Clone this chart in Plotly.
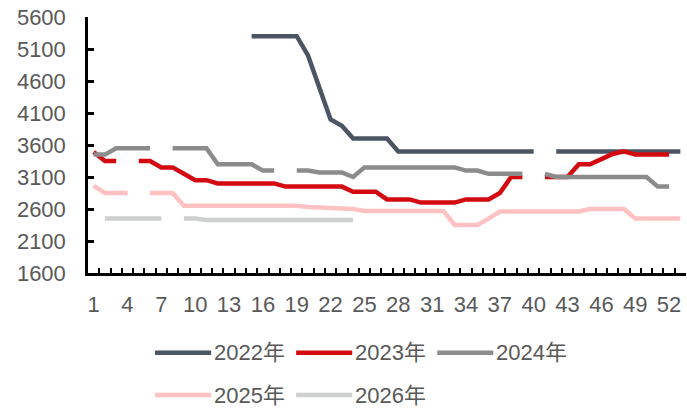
import plotly.graph_objects as go

# Weekly price series (weeks 1-53); None marks a week with no quote
weeks = list(range(1, 54))

y2022 = ([None] * 14 + [5300] * 5 + [5000, 4500, 4000, 3900] + [3700] * 4
         + [3500] * 13 + [None] + [3500] * 12)
y2023 = ([3490] + [3350] * 2 + [None] + [3350] * 2 + [3250] * 2 + [3150]
         + [3050] * 2 + [3000] * 6 + [2950] * 6 + [2870] * 3 + [2750] * 3
         + [2700] * 4 + [2750] * 3 + [2850] + [3100] * 2 + [None]
         + [3100] * 3 + [3300] * 2 + [3380, 3460, 3500] + [3450] * 4 + [None])
y2024 = ([3450] * 2 + [3550] * 4 + [None] + [3550] * 4 + [3300] * 4
         + [3200] * 2 + [None] + [3200] * 2 + [3170] * 3 + [3100]
         + [3250] * 9 + [3200] * 2 + [3150] * 4 + [None] + [3150]
         + [3100] * 9 + [2950] * 2 + [None])
y2025 = ([2960] + [2850] * 3 + [None] + [2850] * 3 + [2650] * 11 + [2630]
         + [2620] * 2 + [2610, 2600] + [2570] * 8 + [2350] * 3 + [2450]
         + [2560] * 8 + [2600] * 4 + [2450] * 5)
y2026 = [None] + [2450] * 6 + [None] + [2450] * 2 + [2430] * 14 + [None] * 29

series_names = ["2022年", "2023年", "2024年", "2025年", "2026年"]
series_values = [y2022, y2023, y2024, y2025, y2026]
colors = ["#4b5563", "#d40a11", "#8c8c8c", "#ffc1c1", "#cecfcf"]

x_ticklabels = list(range(1, 53, 3))
y_ticks = list(range(1600, 5601, 500))

W, H = 687, 411
L, R, T, B = 88, 1.4, 17, 138
FONT = "Liberation Sans, Arial, Noto Sans CJK SC, sans-serif"
TEXT_COLOR = "#595959"

fig = go.Figure()
for name, vals, col in zip(series_names, series_values, colors):
    fig.add_trace(go.Scatter(
        x=weeks, y=vals, name=name, mode="lines",
        line=dict(color=col, width=4.5),
        connectgaps=False, showlegend=False, hoverinfo="x+y+name",
    ))


def paper_x(px):
    return (px - L) / (W - L - R)


def paper_y(py):
    return (H - B - py) / (H - T - B)


# Legend drawn as line samples with labels, two rows
legend_slots = [(155, 352.7), (296, 352.7), (437, 352.7), (155, 395), (296, 395)]
shapes = []
annotations = []
for (lx, ly), name, col in zip(legend_slots, series_names, colors):
    shapes.append(dict(
        type="line", xref="paper", yref="paper",
        x0=paper_x(lx), x1=paper_x(lx + 56), y0=paper_y(ly), y1=paper_y(ly),
        line=dict(color=col, width=4.5),
    ))
    annotations.append(dict(
        xref="paper", yref="paper", x=paper_x(lx + 57), y=paper_y(ly),
        text=name, showarrow=False, xanchor="left", yanchor="middle",
        font=dict(family=FONT, size=22, color=TEXT_COLOR),
    ))

fig.update_layout(
    width=W, height=H,
    margin=dict(l=L, r=R, t=T, b=B, pad=0),
    paper_bgcolor="white", plot_bgcolor="white",
    font=dict(family=FONT, size=22, color=TEXT_COLOR),
    shapes=shapes, annotations=annotations,
    xaxis=dict(
        range=[0.5, 53.5], tickmode="array", tickvals=x_ticklabels,
        ticktext=[str(v) for v in x_ticklabels],
        ticks="inside", ticklen=0, tickwidth=0.01,
        minor=dict(ticks="inside", tickmode="array",
                   tickvals=[i + 0.5 for i in range(54)],
                   ticklen=5, tickwidth=2, tickcolor="black"),
        showline=True, linecolor="black", linewidth=2.5,
        showgrid=False, zeroline=False, ticklabelstandoff=10,
        tickfont=dict(family=FONT, size=22, color=TEXT_COLOR),
    ),
    yaxis=dict(
        range=[1600, 5600], tickmode="array", tickvals=y_ticks,
        ticks="inside", ticklen=6, tickwidth=2.5, tickcolor="black",
        showline=True, linecolor="black", linewidth=2.5,
        showgrid=False, zeroline=False, ticklabelstandoff=15,
        tickfont=dict(family=FONT, size=22, color=TEXT_COLOR),
    ),
)

fig.write_html("out.html")
